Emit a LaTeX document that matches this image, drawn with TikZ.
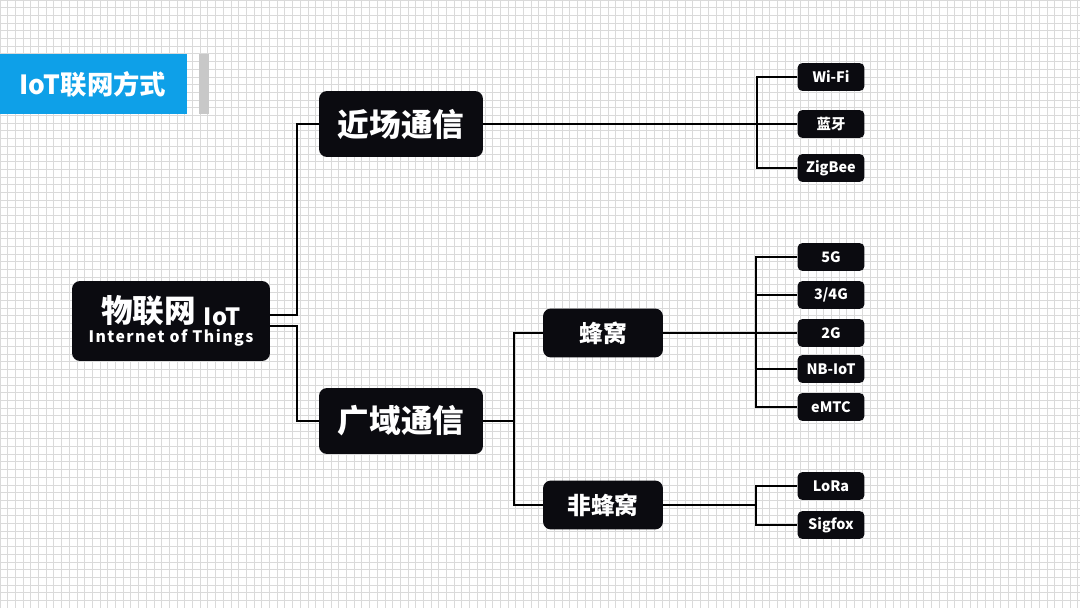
\documentclass[tikz,border=0pt]{standalone}
\usepackage{fontspec}
\setmainfont{Noto Sans CJK SC}[BoldFont={Noto Sans CJK SC Black}]
\definecolor{gridc}{HTML}{DADADA}
\definecolor{boxc}{HTML}{0B0B10}
\definecolor{bluec}{HTML}{0EA0E8}
\definecolor{barc}{HTML}{C8C8C8}
\begin{document}
\begin{tikzpicture}[x=0.02cm,y=-0.02cm,
  box/.style={draw=none,fill=boxc,text=white,font=\bfseries,rounded corners=0.16cm,inner sep=0pt,align=center},
  bigbox/.style={box,minimum width=3.28cm,minimum height=1.32cm,font=\bfseries\fontsize{18}{20}\selectfont},
  midbox/.style={box,minimum width=2.4cm,minimum height=0.98cm,font=\bfseries\fontsize{13.5}{15}\selectfont},
  leaf/.style={box,rounded corners=0.1cm,minimum width=1.34cm,minimum height=0.56cm,font=\bfseries\fontsize{8.2}{9}\selectfont},
  conn/.style={draw=black,line width=1.2pt}]
\useasboundingbox (0,0) rectangle (1080,608);
\fill[white] (0,0) rectangle (1080,608);
\draw[gridc,line width=0.5pt,step=0.154cm] (0,0) grid (1080,608);
% title
\fill[bluec] (0,54) rectangle (187,114);
\fill[barc] (199,54) rectangle (209,114);
\node[text=white,font=\bfseries\fontsize{15}{17}\selectfont] (title) at (93,84) {IoT联网方式};
% nodes
\node[box,minimum width=3.96cm,minimum height=1.6cm] (root) at (171,321)
  {{\fontsize{18}{20}\selectfont 物联网\hspace{0.25em}\raisebox{-0.15ex}{\fontsize{13.5}{15}\selectfont IoT}}\\[-1pt]
   {\fontsize{9}{11}\selectfont\addfontfeature{LetterSpace=9}Internet of Things}};
\node[bigbox] (near) at (401,124) {近场通信};
\node[bigbox] (wide) at (401,421) {广域通信};
\node[midbox] (cell) at (603,333) {蜂窝};
\node[midbox] (ncell) at (603,505) {非蜂窝};
\node[leaf] (wifi) at (831,77) {Wi-Fi};
\node[leaf] (bt) at (831,124) {蓝牙};
\node[leaf] (zig) at (831,168) {ZigBee};
\node[leaf] (g5) at (831,257) {5G};
\node[leaf] (g34) at (831,295) {3/4G};
\node[leaf] (g2) at (831,333) {2G};
\node[leaf] (nb) at (831,369) {NB-IoT};
\node[leaf] (emtc) at (831,407) {eMTC};
\node[leaf] (lora) at (831,486) {LoRa};
\node[leaf] (sig) at (831,525) {Sigfox};
% trunk coordinates
\coordinate (r1) at (297,315);
\coordinate (r2) at (297,326);
\coordinate (tw) at (514,421);
\coordinate (tn) at (757,124);
\coordinate (tc) at (756,333);
\coordinate (tf) at (756,505);
% connectors
\draw[conn] (root.east |- r1) -- (r1) |- (near.west);
\draw[conn] (root.east |- r2) -- (r2) |- (wide.west);
\draw[conn] (near.east) -- (tn) -- (bt.west);
\draw[conn] (wifi.west) -| (tn) |- (zig.west);
\draw[conn] (wide.east) -- (tw);
\draw[conn] (cell.west) -| (tw) |- (ncell.west);
\draw[conn] (cell.east) -- (tc) -- (g2.west);
\draw[conn] (g5.west) -| (tc) |- (emtc.west);
\draw[conn] (g34.west) -- (g34.west -| tc);
\draw[conn] (nb.west) -- (nb.west -| tc);
\draw[conn] (ncell.east) -- (tf);
\draw[conn] (lora.west) -| (tf) |- (sig.west);
\end{tikzpicture}
\end{document}
